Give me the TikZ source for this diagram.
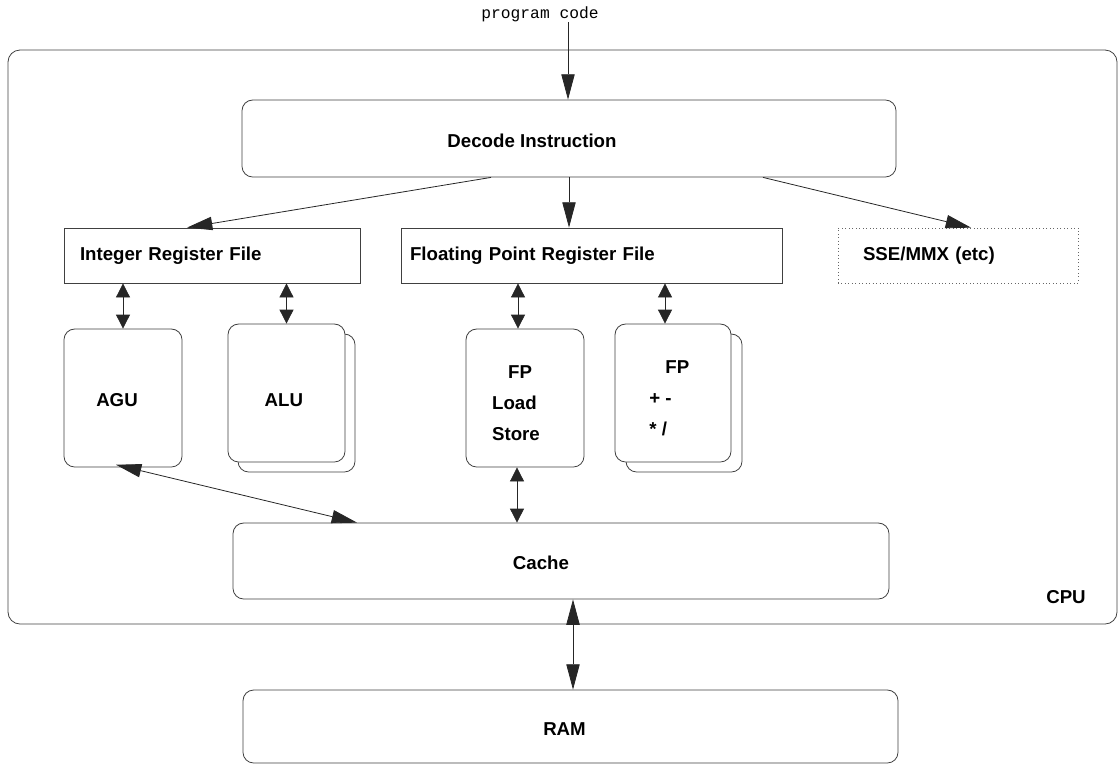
\documentclass[tikz,border=0pt]{standalone}
\usepackage{fontspec}
\setmainfont{Liberation Sans}
\setmonofont{Liberation Mono}
\usetikzlibrary{arrows.meta,calc}
\newcommand{\lowr}[2]{\raisebox{-#1}[\height][\depth]{#2}}
\begin{document}
\begin{tikzpicture}[x=0.75pt,y=-0.75pt,
  lbl/.style={font=\fontsize{14}{17}\selectfont\bfseries},
  box/.style={lbl, draw=black!75, line width=0.6pt, fill=white, inner sep=0pt},
  rbox/.style={box, rounded corners=8pt},
  con/.style={draw=black!85, line width=0.6pt},
  big/.style={con, -{Triangle[length=19pt,width=10pt]}},
  bigd/.style={con, {Triangle[length=19pt,width=10pt]}-{Triangle[length=19pt,width=10pt]}},
  smalld/.style={con, {Triangle[length=10.5pt,width=10.5pt]}-{Triangle[length=10.5pt,width=10.5pt]}}]
\useasboundingbox (0,0) rectangle (1119,765);

% CPU container
\draw[draw=black!75, line width=0.6pt, rounded corners=9pt] (8,50) rectangle (1117,624);
\node[lbl] (cpu) at (1066,597) {CPU};

% program code
\node[font=\fontsize{12.2}{14}\selectfont\ttfamily] (pc) at (540,14) {program code};
\coordinate (pcin) at (568,22);

% boxes
\node[rbox, minimum width=490.5pt, minimum height=57.75pt] (dec) at (569,138.5) {\lowr{1.5pt}{Decode Instruction}\hspace*{55.5pt}};

\node[box, minimum height=41.25pt, text width=198pt, inner xsep=12pt, align=left] (intreg) at (212,255.5) {Integer Register File};
\node[box, minimum height=41.25pt, text width=272.25pt, inner xsep=6.75pt, align=left] (fpreg) at (591.5,255.5) {Floating Point Register File};
\node[box, draw=black!60, dotted, minimum height=41.25pt, text width=142.5pt, inner xsep=18.75pt, align=left] (sse) at (958,255.5) {SSE/MMX (etc)};

\node[rbox, minimum width=88.5pt, minimum height=103.5pt] (agu) at (123,398) {\lowr{1.5pt}{AGU}\hspace*{9pt}};

\node[rbox, minimum width=87.75pt, minimum height=103.5pt] (aluback) at (296.5,403) {};
\node[rbox, minimum width=87.75pt, minimum height=103.5pt] (alu) at (286.5,393) {\lowr{5.25pt}{ALU}\hspace*{4pt}};

\node[rbox, minimum width=88.5pt, minimum height=103.5pt] (fpls) at (525,398)
  {\lowr{5.25pt}{\begin{tabular}{@{}l@{}}\hspace*{12pt}FP\\[6.25pt]Load\\[6.25pt]Store\end{tabular}}\hspace*{13.5pt}};

\node[rbox, minimum width=87pt, minimum height=103.5pt] (fparback) at (684,403) {};
\node[rbox, minimum width=87pt, minimum height=103.5pt] (fpar) at (673,393)
  {\lowr{5.25pt}{\begin{tabular}{@{}l@{}}\hspace*{12pt}FP\\[6pt]+ -\\[6pt]* /\end{tabular}}\hspace*{5.5pt}};

\node[rbox, minimum width=492pt, minimum height=57pt] (cache) at (561,561) {\lowr{1.5pt}{Cache}\hspace*{30pt}};
\node[rbox, minimum width=491.25pt, minimum height=54.75pt] (ram) at (570.5,726.5) {\lowr{2pt}{RAM}\hspace*{9pt}};

% connectors
\draw[big] (pcin) -- (pcin |- dec.north);
\draw[big] ([xshift=-58.5pt]dec.south) -- ([xshift=-18.75pt]intreg.north);
\draw[big] (dec.south) -- (dec.south |- fpreg.north);
\draw[big] ([xshift=145.5pt]dec.south) -- ([xshift=9.75pt]sse.north);

\draw[smalld] (intreg.south -| agu.north) -- (agu.north);
\draw[smalld] (intreg.south -| alu.north) -- (alu.north);
\draw[smalld] ([xshift=-5.25pt]fpreg.south -| fpls.north) -- ([xshift=-5.25pt]fpls.north);
\draw[smalld] ([xshift=-6pt]fpreg.south -| fpar.north) -- ([xshift=-6pt]fpar.north);

\draw[bigd] ([xshift=-5.25pt,yshift=2pt]agu.south) -- ([xshift=-153pt]cache.north);
\draw[smalld] ([xshift=-6pt]fpls.south) -- ([xshift=-6pt]fpls.south |- cache.north);
\draw[bigd] ([xshift=9pt]cache.south) -- ([xshift=9pt]cache.south |- ram.north);
\end{tikzpicture}
\end{document}
